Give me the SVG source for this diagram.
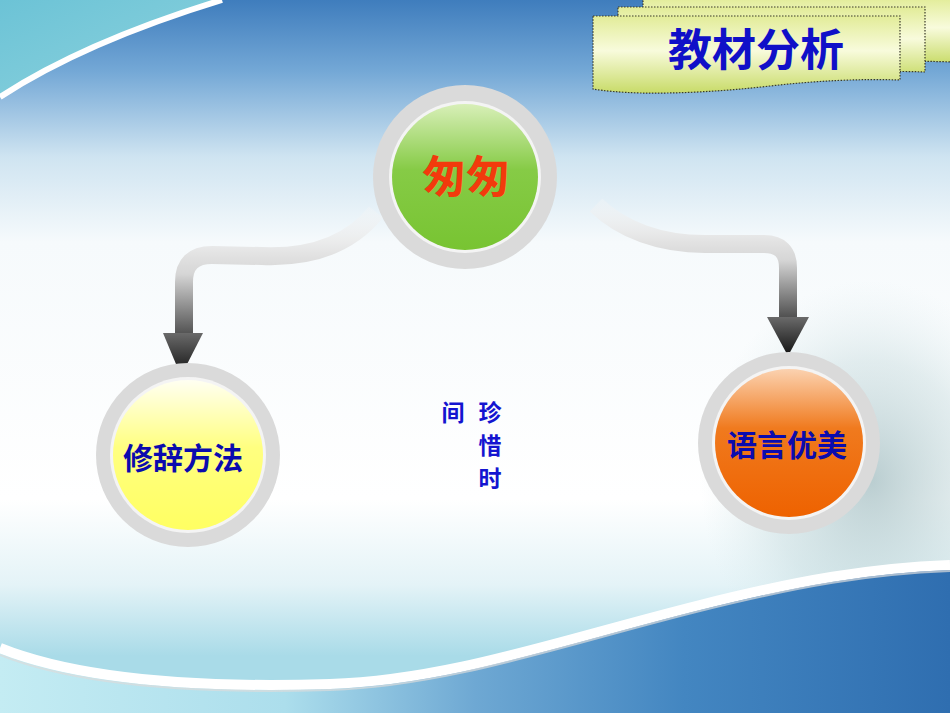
<svg xmlns="http://www.w3.org/2000/svg" width="950" height="713" viewBox="0 0 950 713">
<defs>
<linearGradient id="bg" x1="0" y1="0" x2="0" y2="1">
<stop offset="0" stop-color="#3f7dbd"/>
<stop offset="0.1" stop-color="#74a8d6"/>
<stop offset="0.22" stop-color="#cfe4f1"/>
<stop offset="0.34" stop-color="#f6fafc"/>
<stop offset="0.7" stop-color="#ffffff"/>
<stop offset="0.82" stop-color="#e4f3f7"/>
<stop offset="0.92" stop-color="#a9dbe8"/>
</linearGradient>
<linearGradient id="teal" x1="0" y1="0" x2="1" y2="1">
<stop offset="0" stop-color="#6cc3d6"/>
<stop offset="1" stop-color="#8ed3de"/>
</linearGradient>
<linearGradient id="bottom" x1="0" y1="0" x2="1" y2="0">
<stop offset="0" stop-color="#c4ecf3"/>
<stop offset="0.3" stop-color="#acdeec"/>
<stop offset="0.5" stop-color="#6ea8d3"/>
<stop offset="0.72" stop-color="#4386c1"/>
<stop offset="1" stop-color="#2f6eb0"/>
</linearGradient>
<radialGradient id="dand" cx="0.5" cy="0.5" r="0.5">
<stop offset="0" stop-color="#9cb8bc" stop-opacity="0.7"/>
<stop offset="0.6" stop-color="#bcd4d7" stop-opacity="0.4"/>
<stop offset="1" stop-color="#d6e8ea" stop-opacity="0"/>
</radialGradient>
<linearGradient id="banner" x1="0" y1="0" x2="0" y2="1">
<stop offset="0" stop-color="#e2ec98"/>
<stop offset="0.45" stop-color="#f8fbdc"/>
<stop offset="1" stop-color="#c8db68"/>
</linearGradient>
<linearGradient id="gGreen" x1="0" y1="0" x2="0" y2="1">
<stop offset="0" stop-color="#d8efb8"/>
<stop offset="0.45" stop-color="#86cb46"/>
<stop offset="1" stop-color="#78c432"/>
</linearGradient>
<linearGradient id="gYellow" x1="0" y1="0" x2="0" y2="1">
<stop offset="0" stop-color="#fffff2"/>
<stop offset="0.45" stop-color="#ffff80"/>
<stop offset="1" stop-color="#ffff62"/>
</linearGradient>
<linearGradient id="gOrange" x1="0" y1="0" x2="0" y2="1">
<stop offset="0" stop-color="#fbd2b0"/>
<stop offset="0.4" stop-color="#f07a1e"/>
<stop offset="1" stop-color="#ee6200"/>
</linearGradient>
<linearGradient id="connL" gradientUnits="userSpaceOnUse" x1="0" y1="210" x2="0" y2="338">
<stop offset="0" stop-color="#f6f6f6" stop-opacity="0.3"/>
<stop offset="0.35" stop-color="#e2e2e2"/>
<stop offset="0.5" stop-color="#d6d6d6"/>
<stop offset="1" stop-color="#4a4a4a"/>
</linearGradient>
<linearGradient id="connR" gradientUnits="userSpaceOnUse" x1="0" y1="200" x2="0" y2="320">
<stop offset="0" stop-color="#f6f6f6" stop-opacity="0.3"/>
<stop offset="0.35" stop-color="#e2e2e2"/>
<stop offset="0.5" stop-color="#d6d6d6"/>
<stop offset="1" stop-color="#4a4a4a"/>
</linearGradient>
<linearGradient id="head" x1="0" y1="0" x2="0" y2="1">
<stop offset="0" stop-color="#6a6a6a"/>
<stop offset="1" stop-color="#111111"/>
</linearGradient>
</defs>
<style>
.ring{fill:#dadada}
.inner{fill:#f4f4f4}
.conn{fill:none;stroke-width:18;stroke-linecap:butt;stroke-linejoin:round}
.ban{fill:url(#banner);stroke:#3a3a2a;stroke-width:1.2;stroke-dasharray:1.5 1.5}
.cjk{font-family:"Noto Sans CJK SC","Noto Sans CJK TC",sans-serif;font-weight:bold;text-anchor:middle}
.lbl{fill:#0b0bae;font-size:30px}
.mid{fill:#1414d0;font-size:23px}
</style>

<!-- background -->
<rect x="0" y="0" width="950" height="713" fill="url(#bg)"/>
<path d="M0,0 L222,0 C140,25 60,58 0,97 Z" fill="url(#teal)"/>
<path d="M222,0 C140,25 60,58 0,97" fill="none" stroke="#ffffff" stroke-width="6"/>
<ellipse cx="870" cy="480" rx="170" ry="200" fill="url(#dand)"/>
<path d="M0,648 C80,680 200,688 330,684 C450,680 560,640 700,605 C800,580 870,568 950,565 L950,713 L0,713 Z" fill="url(#bottom)"/>
<path d="M0,648 C80,680 200,688 330,684 C450,680 560,640 700,605 C800,580 870,568 950,565" fill="none" stroke="#ffffff" stroke-width="10"/>
<path d="M0,655 C80,687 200,694 330,690 C450,686 560,646 700,611 C800,586 870,574 950,571" fill="none" stroke="#dcdcdc" stroke-width="2" stroke-opacity="0.7"/>

<!-- title banner -->
<g id="title">
<path class="ban" d="M643,-2 L952,-2 L952,62 Q900,60 860,64 L643,64 Z"/>
<path class="ban" d="M618,7 L925,7 L925,72 Q880,70 820,76 Q760,80 618,74 Z"/>
<path class="ban" d="M593,16 L900,16 L900,80 Q840,78 770,86 Q700,94 640,93 Q610,92 593,89 Z"/>
<text class="cjk" x="756" y="66" font-size="44" fill="#1010c8">教材分析</text>
</g>

<!-- connectors -->
<g id="connectors">
<path class="conn" stroke="url(#connL)" d="M376,212 C352,242 315,258 262,256 L212,255 Q184,255 184,282 L184,334"/>
<polygon points="163,333 203,333 181,376" fill="url(#head)"/>
<path class="conn" stroke="url(#connR)" d="M596,205 C622,230 660,244 705,244 L764,244 Q788,244 788,268 L788,318"/>
<polygon points="767,317 809,317 788,356" fill="url(#head)"/>
</g>

<!-- center node -->
<g id="node-congcong">
<circle class="ring" cx="465" cy="177" r="92"/>
<circle class="inner" cx="465" cy="177" r="76"/>
<circle cx="465" cy="177" r="73" fill="url(#gGreen)"/>
<text class="cjk" x="466" y="193" font-size="44" fill="#f23a0c">匆匆</text>
</g>

<!-- left node -->
<g id="node-xiuci">
<circle class="ring" cx="188" cy="455" r="92"/>
<circle class="inner" cx="188" cy="455" r="78"/>
<circle cx="188" cy="455" r="75" fill="url(#gYellow)"/>
<text class="cjk lbl" x="183" y="469">修辞方法</text>
</g>

<!-- right node -->
<g id="node-yuyan">
<circle class="ring" cx="789" cy="443" r="91"/>
<circle class="inner" cx="789" cy="443" r="77"/>
<circle cx="789" cy="443" r="74" fill="url(#gOrange)"/>
<text class="cjk lbl" x="787" y="456">语言优美</text>
</g>

<!-- middle text -->
<g id="middle-text">
<text class="cjk mid" x="453" y="421">间</text>
<text class="cjk mid" x="490" y="421">珍</text>
<text class="cjk mid" x="490" y="454">惜</text>
<text class="cjk mid" x="490" y="487">时</text>
</g>
</svg>
